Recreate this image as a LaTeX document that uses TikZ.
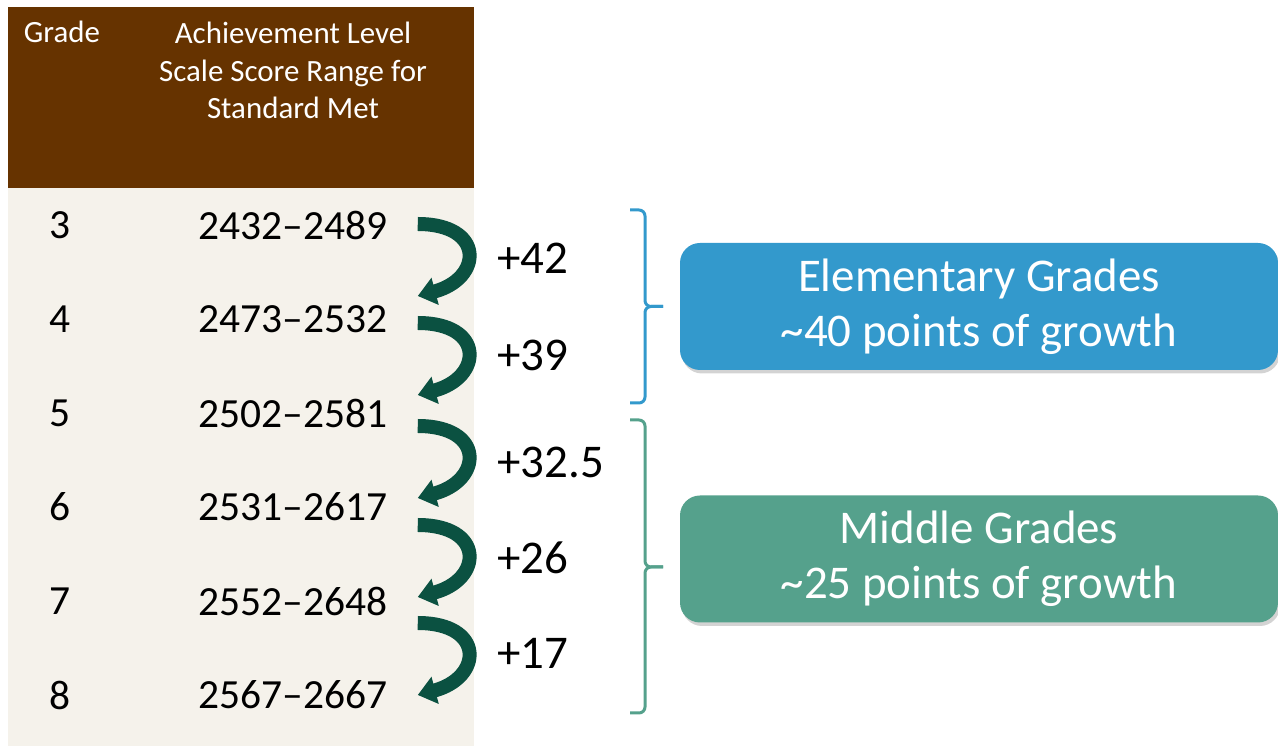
\documentclass[tikz,border=0pt]{standalone}
\usepackage{fontspec}
\setmainfont{Carlito}
\usetikzlibrary{arrows.meta,shadows}
\definecolor{headbrown}{HTML}{663300}
\definecolor{tablebg}{HTML}{F5F2EB}
\definecolor{arrowgreen}{HTML}{0B5141}
\definecolor{elemblue}{HTML}{3399CC}
\definecolor{midgreen}{HTML}{55A18C}
\begin{document}
\begin{tikzpicture}[
    head/.style={text=white, font=\fontsize{17.6}{21.5}\selectfont, anchor=base, inner sep=0pt, align=center},
    cell/.style={font=\fontsize{23.6}{28}\selectfont, inner sep=0pt},
    gain/.style={font=\fontsize{26.7}{32}\selectfont, inner sep=0pt, anchor=west},
    growth/.style={arrowgreen, line width=0.28cm, -{Triangle[length=0.36cm,width=0.54cm]}},
    summary/.style={rounded corners=0.4cm, text=white, minimum width=11.96cm, minimum height=2.54cm,
        align=center, font=\fontsize{26.7}{31.2}\selectfont,
        drop shadow={opacity=0.35, shadow xshift=0.04cm, shadow yshift=-0.07cm}},
    bracket/.style={line width=0.06cm, rounded corners=0.12cm}
]
    \useasboundingbox (0, 0) rectangle (25.56, 14.92);

    \fill[tablebg]   (0.16,  0   ) rectangle (9.48, 11.16);
    \fill[headbrown] (0.16, 11.16) rectangle (9.48, 14.78);

    \node[head] (hgrade) at (1.24, 14.06) {Grade};
    \node[head] (hrange) at (5.86, 12.54) {Achievement Level\\Scale Score Range for\\Standard Met};

    \foreach \g/\r [count=\i] in {3/2432--2489, 4/2473--2532, 5/2502--2581, 6/2531--2617, 7/2552--2648, 8/2567--2667}{
        \node[cell] (g\g) at (1.20, {12.30-1.88*\i}) {\g};
        \node[cell] (s\g) at (5.86, {12.30-1.88*\i}) {\r};
    }

    \foreach \a/\b/\da/\db in {3/4/0.02/0.46, 4/5/-0.08/0.36, 5/6/-0.26/0.18, 6/7/-0.36/0.08, 7/8/-0.44/0.0}
        \draw[growth] ([xshift=0.6cm, yshift=\da cm]s\a.east) to[out=0, in=15, looseness=2.4] ([xshift=0.6cm, yshift=\db cm]s\b.east);

    \foreach \n/\y/\t in {d34/9.76/+42, d45/7.82/+39, d56/5.68/+32.5, d67/3.76/+26, d78/1.86/+17}
        \node[gain] (\n) at (9.94, \y) {\t};

    \draw[bracket, elemblue] (12.6, 10.72) -| (12.9, 8.79) -- (13.26, 8.79);
    \draw[bracket, elemblue] (12.6,  6.86) -| (12.9, 8.79) -- (13.26, 8.79);
    \draw[bracket, midgreen] (12.6,  6.52) -| (12.9, 3.58) -- (13.26, 3.58);
    \draw[bracket, midgreen] (12.6,  0.66) -| (12.9, 3.58) -- (13.26, 3.58);

    \node[summary, fill=elemblue] (elem) at (19.58, 8.79) {Elementary Grades\\\textasciitilde 40 points of growth};
    \node[summary, fill=midgreen] (mid)  at (19.58, 3.74) {Middle Grades\\\textasciitilde 25 points of growth};
\end{tikzpicture}
\end{document}
